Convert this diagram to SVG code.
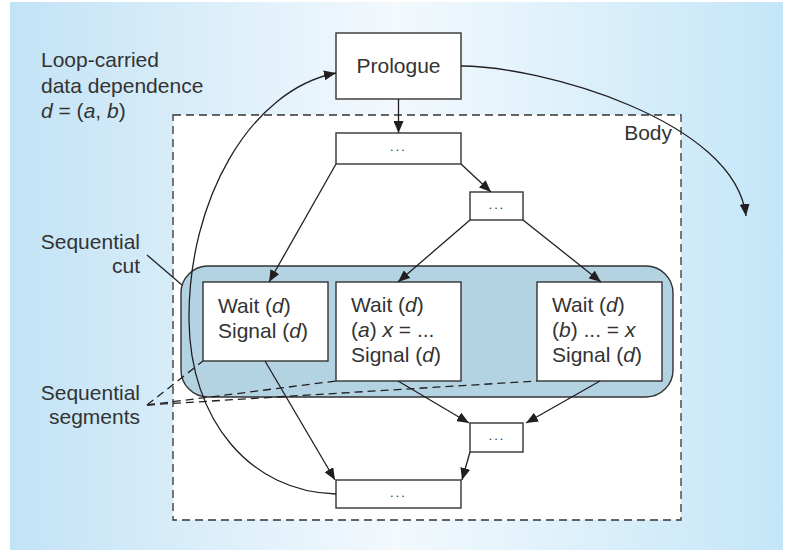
<svg xmlns="http://www.w3.org/2000/svg" width="787" height="550" viewBox="0 0 787 550">
  <defs>
    <linearGradient id="bg" x1="0" y1="0" x2="1" y2="0">
      <stop offset="0" stop-color="#c2e3f6"/>
      <stop offset="0.5" stop-color="#f3f9fd"/>
      <stop offset="1" stop-color="#c4e6f8"/>
    </linearGradient>
    <marker id="ah" viewBox="0 0 12 10" refX="12" refY="5" markerWidth="12" markerHeight="10" markerUnits="userSpaceOnUse" orient="auto">
      <path d="M0,0 L12,5 L0,10 Z" fill="#231f20"/>
    </marker>
    <style>
      .t { font-family: "Liberation Sans", Arial, sans-serif; font-size: 21px; fill: #333333; }
      .dots { font-family: "Liberation Sans", Arial, sans-serif; font-size: 13px; fill: #333333; letter-spacing: 2px; text-anchor: middle; }
      .i { font-style: italic; }
      .box { fill: #ffffff; stroke: #333333; stroke-width: 1.4; }
      .edge { fill: none; stroke: #231f20; stroke-width: 1.3; marker-end: url(#ah); }
      .line { fill: none; stroke: #231f20; stroke-width: 1.3; }
      .dash { fill: none; stroke: #231f20; stroke-width: 1.3; stroke-dasharray: 8 5; }
    </style>
  </defs>

  <rect x="10" y="2" width="773" height="548" fill="url(#bg)"/>

  <!-- Body region -->
  <g id="body">
    <rect x="173" y="115" width="508" height="405" fill="#ffffff" stroke="#333333" stroke-width="1.3" stroke-dasharray="8 5"/>
    <text class="t" x="672" y="140" text-anchor="end">Body</text>
  </g>

  <!-- Sequential cut -->
  <g id="cut">
    <rect x="181" y="266" width="492" height="131" rx="27" ry="27" fill="#b3d3e3" stroke="#333333" stroke-width="1.4"/>
  </g>

  <!-- Labels -->
  <g id="label-loop">
    <text class="t" x="41" y="67">Loop-carried</text>
    <text class="t" x="41" y="93">data dependence</text>
    <text class="t" x="41" y="118"><tspan class="i">d</tspan> = (<tspan class="i">a</tspan>, <tspan class="i">b</tspan>)</text>
  </g>
  <g id="label-cut">
    <text class="t" x="140" y="249" text-anchor="end">Sequential</text>
    <text class="t" x="140" y="273" text-anchor="end">cut</text>
  </g>
  <g id="label-segments">
    <text class="t" x="140" y="400" text-anchor="end">Sequential</text>
    <text class="t" x="140" y="424" text-anchor="end">segments</text>
  </g>

  <!-- Nodes -->
  <g id="prologue">
    <rect class="box" x="336" y="33" width="125" height="66"/>
    <text class="t" x="398.5" y="73" text-anchor="middle">Prologue</text>
  </g>
  <g id="n1">
    <rect class="box" x="336" y="133" width="125" height="31"/>
    <text class="dots" x="398.5" y="151">...</text>
  </g>
  <g id="n2">
    <rect class="box" x="470" y="192" width="53" height="28"/>
    <text class="dots" x="497" y="209">...</text>
  </g>
  <g id="w1">
    <rect class="box" x="203" y="282" width="125" height="79"/>
    <text class="t" x="218" y="313">Wait (<tspan class="i">d</tspan>)</text>
    <text class="t" x="218" y="338">Signal (<tspan class="i">d</tspan>)</text>
  </g>
  <g id="w2">
    <rect class="box" x="336" y="282" width="125" height="99"/>
    <text class="t" x="351" y="312">Wait (<tspan class="i">d</tspan>)</text>
    <text class="t" x="351" y="337">(<tspan class="i">a</tspan>) <tspan class="i">x</tspan> = ...</text>
    <text class="t" x="351" y="362">Signal (<tspan class="i">d</tspan>)</text>
  </g>
  <g id="w3">
    <rect class="box" x="537" y="282" width="125" height="99"/>
    <text class="t" x="552" y="312">Wait (<tspan class="i">d</tspan>)</text>
    <text class="t" x="552" y="337">(<tspan class="i">b</tspan>) ... = <tspan class="i">x</tspan></text>
    <text class="t" x="552" y="362">Signal (<tspan class="i">d</tspan>)</text>
  </g>
  <g id="n3">
    <rect class="box" x="470" y="423" width="53" height="29"/>
    <text class="dots" x="497" y="440">...</text>
  </g>
  <g id="n4">
    <rect class="box" x="336" y="480" width="125" height="28"/>
    <text class="dots" x="398.5" y="497">...</text>
  </g>

  <!-- Connectors -->
  <g id="connectors">
    <line class="edge" x1="398.5" y1="99" x2="398.5" y2="133"/>
    <line class="edge" x1="461" y1="164" x2="491" y2="192"/>
    <line class="edge" x1="336" y1="164" x2="269" y2="282"/>
    <line class="edge" x1="470" y1="220" x2="398" y2="282"/>
    <line class="edge" x1="523" y1="220" x2="601" y2="282"/>
    <line class="edge" x1="265" y1="361" x2="335" y2="480"/>
    <line class="edge" x1="398" y1="381" x2="469" y2="423"/>
    <line class="edge" x1="600" y1="381" x2="526" y2="423"/>
    <line class="edge" x1="470" y1="452" x2="462" y2="480"/>
    <path class="edge" d="M336,494 C250,492 190,420 189,320 C188,200 250,90 336,73"/>
    <path class="edge" d="M461,66 C540,66 735,120 746,216"/>
    <line class="line" x1="147" y1="255" x2="182" y2="285"/>
    <line class="dash" x1="147" y1="405" x2="203" y2="361"/>
    <line class="dash" x1="147" y1="405" x2="336" y2="381"/>
    <line class="dash" x1="147" y1="405" x2="537" y2="381"/>
  </g>
</svg>
